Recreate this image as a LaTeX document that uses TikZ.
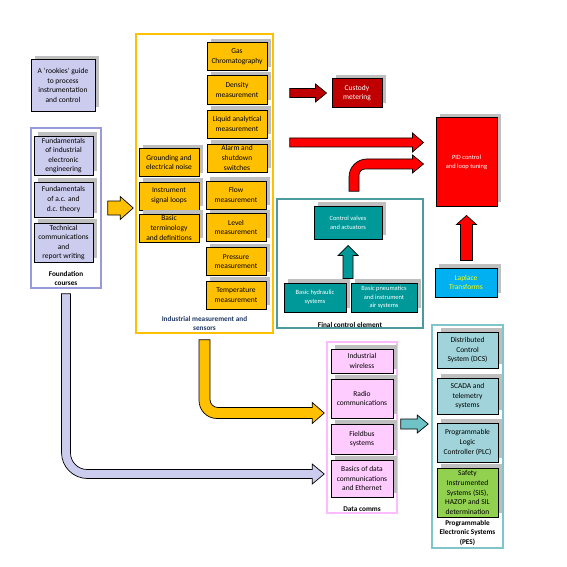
\documentclass[tikz,border=0pt]{standalone}
\usepackage{fontspec}
\setmainfont{Carlito}
\usetikzlibrary{positioning,fit,calc,shadows}

\definecolor{amber}{HTML}{FFC000}
\definecolor{lavender}{HTML}{CCCCEE}
\definecolor{lavborder}{HTML}{9999DD}
\definecolor{tealbox}{HTML}{009999}
\definecolor{tealborder}{HTML}{4A9A9E}
\definecolor{pinkbox}{HTML}{FFCCFF}
\definecolor{pinkborder}{HTML}{FFBBFF}
\definecolor{pesblue}{HTML}{A0D4DA}
\definecolor{pesborder}{HTML}{7EC6C9}
\definecolor{sisgreen}{HTML}{92D050}
\definecolor{darkred}{HTML}{C00000}
\definecolor{brightred}{HTML}{FF0000}
\definecolor{skyblue}{HTML}{00B0F0}
\definecolor{laptext}{HTML}{FFFF00}
\definecolor{shadowgrey}{HTML}{BFBFBF}
\definecolor{smallteal}{HTML}{6FC2C6}
\definecolor{inddark}{HTML}{1F3864}

% block arrows: style, start, tip, half shaft, half head, head length
\newcommand{\hblockarrow}[6]{%
  \draw[#1] ($(#2)+(0,-#4)$) -- ($(#3)+(-#6,-#4)$) -- ($(#3)+(-#6,-#5)$) -- (#3)
    -- ($(#3)+(-#6,#5)$) -- ($(#3)+(-#6,#4)$) -- ($(#2)+(0,#4)$) -- cycle;}
\newcommand{\vblockarrow}[6]{%
  \draw[#1] ($(#2)+(-#4,0)$) -- ($(#3)+(-#4,#6)$) -- ($(#3)+(-#5,#6)$) -- (#3)
    -- ($(#3)+(#5,#6)$) -- ($(#3)+(#4,#6)$) -- ($(#2)+(#4,0)$) -- cycle;}
% bent arrows: ... plus outer and inner radius
\newcommand{\bendarrowdown}[8]{%
  \draw[#1] ($(#2)+(-#4,0)$) [rounded corners=#7] -- ($(#2 |- #3)+(-#4,#4)$) [sharp corners]
    -- ($(#3)+(-#6,#4)$) -- ($(#3)+(-#6,#5)$) -- (#3) -- ($(#3)+(-#6,-#5)$) -- ($(#3)+(-#6,-#4)$)
    [rounded corners=#8] -- ($(#2 |- #3)+(#4,-#4)$) [sharp corners] -- ($(#2)+(#4,0)$) -- cycle;}
\newcommand{\bendarrowup}[8]{%
  \draw[#1] ($(#2)+(-#4,0)$) [rounded corners=#7] -- ($(#2 |- #3)+(-#4,-#4)$) [sharp corners]
    -- ($(#3)+(-#6,-#4)$) -- ($(#3)+(-#6,-#5)$) -- (#3) -- ($(#3)+(-#6,#5)$) -- ($(#3)+(-#6,#4)$)
    [rounded corners=#8] -- ($(#2 |- #3)+(#4,#4)$) [sharp corners] -- ($(#2)+(#4,0)$) -- cycle;}

\begin{document}
\begin{tikzpicture}[x=0.03cm, y=-0.03cm,
    every node/.style={font=\fontsize{6.4}{8.2}\selectfont},
    shade/.style={drop shadow={shadow xshift=3.4pt, shadow yshift=3.4pt, fill=shadowgrey, opacity=1}},
    box/.style={rectangle, draw, line width=0.85pt, shade, align=center, inner sep=0.5pt},
    lbox/.style={box, fill=lavender, minimum width=1.77cm},
    ybox/.style={box, fill=amber, minimum width=1.8cm, minimum height=0.84cm},
    tbox/.style={box, fill=tealbox, text=white, font=\fontsize{5.5}{7.5}\selectfont, minimum height=0.87cm},
    pbox/.style={box, fill=pinkbox, minimum width=1.86cm},
    ebox/.style={box, fill=pesblue, minimum width=1.83cm},
    cont/.style={rectangle, draw, line width=1.3pt, inner sep=0pt},
    lbl/.style={align=center, inner sep=1pt, font=\bfseries\fontsize{6.2}{8.2}\selectfont},
    arrow/.style={draw=black, line width=0.6pt}
]
    \path[fill=white, use as bounding box] (0,0) rectangle (567,567);

    % containers
    \node[cont, draw=lavborder, fit={(31,128) (101,288)}] (found) {};
    \node[cont, draw=amber, fit={(136,34) (273,333)}] (ims) {};
    \node[cont, draw=tealborder, fit={(277,199) (423,328)}] (fce) {};
    \node[cont, draw=pinkborder, fit={(327,342) (397,513)}] (dc) {};
    \node[cont, draw=pesborder, fit={(432,325) (503,548)}] (pes) {};

    \node[lbl, above=0.05cm of found.south] (foundlbl) {Foundation\\courses};
    \node[lbl, text=inddark, above=0.05cm of ims.south] (imslbl) {Industrial measurement and\\sensors};
    \node[lbl, above=0pt of fce.south] (fcelbl) {Final control element};
    \node[lbl, above=0.03cm of dc.south] (dclbl) {Data comms};
    \node[lbl, above=0.05cm of pes.south] (peslbl) {Programmable\\Electronic Systems\\(PES)};

    % foundation
    \node[lbox, minimum width=1.92cm, minimum height=1.53cm] (rookies) at (63,85.5) {A ‘rookies’ guide\\to process\\instrumentation\\and control};
    \node[lbox, minimum height=1.17cm] (fie) at (63.5,155.5) {Fundamentals\\of industrial\\electronic\\engineering};
    \node[lbox, minimum height=1.05cm] (fac) at (63.5,199.5) {Fundamentals\\of a.c. and\\d.c. theory};
    \node[lbox, minimum height=1.17cm] (tcr) at (63.5,242.5) {Technical\\communications\\and\\report writing};

    % industrial measurement
    \node[ybox] (gas) at (237,56.5) {Gas\\Chromatography};
    \node[ybox] (density) at (237,90) {Density\\measurement};
    \node[ybox] (liquid) at (237,124) {Liquid analytical\\measurement};
    \node[ybox] (alarm) at (237,158) {Alarm and\\shutdown\\switches};
    \node[ybox] (flow) at (236,195) {Flow\\measurement};
    \node[ybox] (level) at (236,227.5) {Level\\measurement};
    \node[ybox] (pressure) at (236,261.5) {Pressure\\measurement};
    \node[ybox] (temp) at (236,295) {Temperature\\measurement};
    \node[ybox] (ground) at (169,162.5) {Grounding and\\electrical noise};
    \node[ybox] (loops) at (169,196) {Instrument\\signal loops};
    \node[ybox] (term) at (169,228) {Basic\\terminology\\and definitions};

    % control
    \node[box, fill=darkred, text=white, minimum width=1.5cm, minimum height=0.84cm] (cust) at (357,93) {Custody\\metering};
    \node[box, fill=brightred, text=white, font=\fontsize{5.5}{7.5}\selectfont, minimum width=1.83cm, minimum height=2.64cm] (pid) at (466.5,162) {PID control\\and loop tuning};
    \node[box, fill=skyblue, text=laptext, minimum width=1.86cm, minimum height=0.87cm] (lap) at (466,282.5) {Laplace\\Transforms};
    \node[tbox, minimum width=2.04cm, minimum height=0.99cm] (valves) at (348,222.5) {Control valves\\and actuators};
    \node[tbox, minimum width=1.86cm] (hyd) at (315,297.5) {Basic hydraulic\\systems};
    \node[tbox, minimum width=1.98cm] (pneu) at (384,297.5) {Basic pneumatics\\and instrument\\air systems};

    % data comms
    \node[pbox, minimum height=0.72cm] (wireless) at (362,361) {Industrial\\wireless};
    \node[pbox, minimum height=1.17cm] (radio) at (362,398.5) {Radio\\communications};
    \node[pbox, minimum height=0.9cm] (fieldbus) at (362,439) {Fieldbus\\systems};
    \node[pbox, minimum height=1.11cm] (ether) at (362,478.5) {Basics of data\\communications\\and Ethernet};

    % programmable electronic systems
    \node[ebox, minimum height=1.08cm] (dcs) at (467.5,350) {Distributed\\Control\\System (DCS)};
    \node[ebox, minimum height=1.08cm] (scada) at (467.5,396) {SCADA and\\telemetry\\systems};
    \node[ebox, minimum height=1.17cm] (plc) at (467.5,442.5) {Programmable\\Logic\\Controller (PLC)};
    \node[ebox, fill=sisgreen, minimum height=1.47cm] (sis) at (467.5,492.5) {Safety\\Instrumented\\Systems (SIS),\\HAZOP and SIL\\determination};

    % arrow ends
    \coordinate (ya1) at ($(found.east)+(6,0)$);
    \coordinate (ya2) at ($(ims.west |- found.east)+(-2,0)$);
    \coordinate (da1) at ($(ims.east |- cust.west)+(16,0)$);
    \coordinate (da2) at ($(cust.west)+(-5,0)$);
    \coordinate (ra2) at ($(pid.west)+(-12,-19.5)$);
    \coordinate (ra1) at ($(ims.east |- ra2)+(16,0)$);
    \coordinate (rc1) at ($(fce.north)+(4,-7)$);
    \coordinate (rc2) at ($(pid.west)+(-12,2)$);
    \coordinate (ta1) at ($(valves.south)+(0,39)$);
    \coordinate (ta2) at ($(valves.south)+(0,6)$);
    \coordinate (lp2) at ($(pid.south)+(0,9)$);
    \coordinate (lp1) at ($(pid.south |- lap.north)+(0,-7)$);
    \coordinate (yc1) at ($(ims.south)+(0,6)$);
    \coordinate (yc2) at ($(dc.west)+(-2,-14.5)$);
    \coordinate (vc1) at ($(found.south)+(0,5)$);
    \coordinate (vc2) at ($(dc.west)+(-2,46.5)$);
    \coordinate (sa1) at ($(dc.east)+(3,-3.5)$);
    \coordinate (sa2) at ($(pes.west |- sa1)+(-3,0)$);

    % arrows
    \hblockarrow{arrow, fill=amber}{ya1}{ya2}{7}{11.5}{13}
    \hblockarrow{arrow, fill=darkred}{da1}{da2}{4.5}{9}{11}
    \hblockarrow{arrow, fill=brightred}{ra1}{ra2}{4.5}{9.5}{11}
    \bendarrowup{arrow, fill=brightred}{rc1}{rc2}{5}{9}{11}{0.54cm}{0.18cm}
    \vblockarrow{arrow, fill=tealbox}{ta1}{ta2}{5}{10}{10}
    \vblockarrow{arrow, fill=brightred}{lp1}{lp2}{6}{10}{9}
    \bendarrowdown{arrow, fill=amber}{yc1}{yc2}{5.5}{10.5}{12}{0.54cm}{0.24cm}
    \bendarrowdown{arrow, fill=lavender}{vc1}{vc2}{4.5}{10}{12}{0.78cm}{0.5cm}
    \hblockarrow{arrow, fill=smallteal}{sa1}{sa2}{5}{9}{11}
\end{tikzpicture}
\end{document}
